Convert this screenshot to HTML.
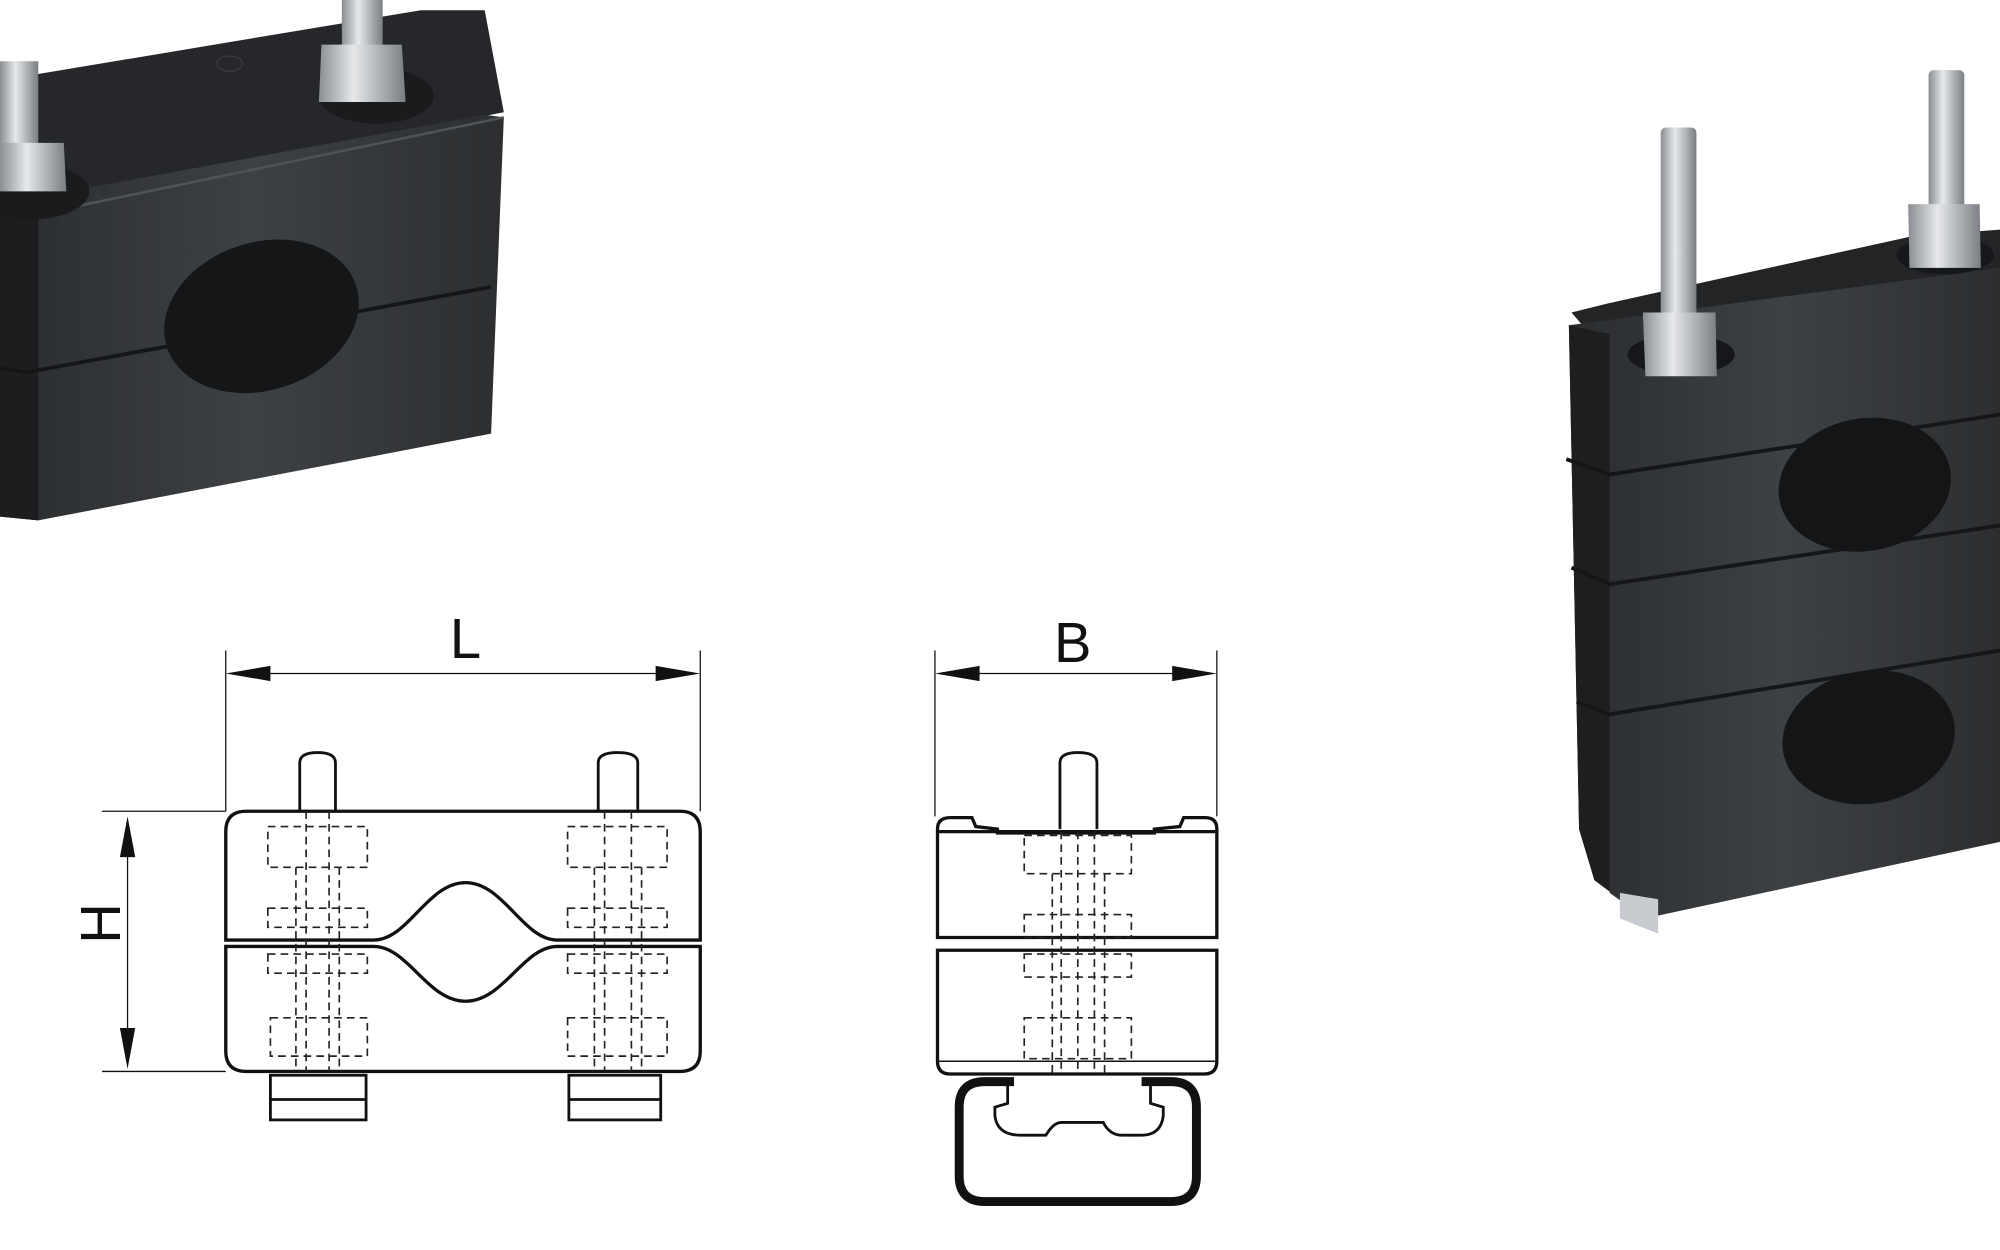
<!DOCTYPE html>
<html><head><meta charset="utf-8"><style>
html,body{margin:0;padding:0;background:#fff;width:2000px;height:1250px;overflow:hidden}
svg{display:block}
text{font-family:"Liberation Sans",sans-serif}
</style></head><body>
<svg width="2000" height="1250" viewBox="0 0 1568 980" preserveAspectRatio="none" xmlns="http://www.w3.org/2000/svg">
<defs>
<linearGradient id="bolt" x1="0" x2="1"><stop offset="0" stop-color="#8a8e92"/><stop offset=".4" stop-color="#e6e8ea"/><stop offset="1" stop-color="#7a7e82"/></linearGradient>
<linearGradient id="face" x1="0" x2="1" y1="0" y2="0"><stop offset="0" stop-color="#2a2c2e"/><stop offset=".5" stop-color="#3e4144"/><stop offset="1" stop-color="#2c2e30"/></linearGradient>
</defs>
<!-- LEFT PHOTO -->
<g>
<polygon points="0,90 30,58 330,8 380,8 395,88 0,165" fill="#25272a"/>
<polygon points="0,160 380,90 395,92 385,340 30,408 0,405" fill="url(#face)"/>
<polygon points="0,160 30,168 30,408 0,405" fill="#1c1d1f"/>
<polyline points="0,288 20,292 385,225" stroke="#141516" stroke-width="3" fill="none"/>
<polyline points="30,168 395,92" stroke="#505356" stroke-width="2" fill="none"/>
<ellipse cx="205" cy="248" rx="78" ry="58" transform="rotate(-18 205 248)" fill="#151617"/>
<ellipse cx="180" cy="50" rx="10" ry="6" fill="none" stroke="#3a3c3e"/>
<ellipse cx="295" cy="75" rx="45" ry="22" fill="#1a1b1c"/>
<ellipse cx="25" cy="150" rx="45" ry="22" fill="#1a1b1c"/>
<rect x="268" y="0" width="32" height="40" fill="url(#bolt)"/>
<polygon points="252,35 315,35 318,80 250,80" fill="url(#bolt)"/>
<rect x="0" y="48" width="30" height="70" fill="url(#bolt)"/>
<polygon points="0,112 50,112 52,150 0,150" fill="url(#bolt)"/>
</g>
<!-- RIGHT PHOTO -->
<g>
<polygon points="1232,245 1260,238 1500,185 1568,180 1568,215 1245,260" fill="#222426"/>
<polygon points="1230,255 1568,210 1568,660 1290,720 1250,690 1238,650" fill="url(#face)"/>
<polygon points="1230,255 1262,262 1262,700 1290,720 1250,690 1238,650" fill="#1d1e20"/>
<polyline points="1228,360 1262,372 1568,325" stroke="#151617" stroke-width="3" fill="none"/>
<polyline points="1232,445 1262,458 1568,412" stroke="#151617" stroke-width="3" fill="none"/>
<polyline points="1236,550 1262,560 1568,510" stroke="#151617" stroke-width="3" fill="none"/>
<ellipse cx="1462" cy="380" rx="68" ry="52" transform="rotate(-10 1462 380)" fill="#141516"/>
<ellipse cx="1465" cy="578" rx="68" ry="52" transform="rotate(-10 1465 578)" fill="#141516"/>
<polygon points="1270,700 1300,705 1300,732 1270,720" fill="#c8ccd0"/>
<ellipse cx="1318" cy="278" rx="42" ry="16" fill="#16171a"/>
<ellipse cx="1525" cy="200" rx="38" ry="15" fill="#16171a"/>
<rect x="1302" y="100" width="28" height="150" rx="4" fill="url(#bolt)"/>
<polygon points="1288,245 1345,245 1346,295 1290,295" fill="url(#bolt)"/>
<rect x="1512" y="55" width="28" height="110" rx="4" fill="url(#bolt)"/>
<polygon points="1496,160 1552,160 1553,210 1497,210" fill="url(#bolt)"/>
</g>
<!-- FRONT VIEW DRAWING -->
<g fill="none" stroke="#111" stroke-width="2.2">
<line x1="177" y1="510" x2="177" y2="636" stroke-width="1"/>
<line x1="549" y1="510" x2="549" y2="636" stroke-width="1"/>
<line x1="200" y1="528" x2="526" y2="528" stroke-width="1"/>
<line x1="80" y1="636" x2="177" y2="636" stroke-width="1"/>
<line x1="80" y1="840" x2="177" y2="840" stroke-width="1"/>
<line x1="100" y1="662" x2="100" y2="814" stroke-width="1"/>
<path d="M235,636 L235,598 Q235,590 249,590 Q263,590 263,598 L263,636"/>
<path d="M469,636 L469,598 Q469,590 484,590 Q500,590 500,598 L500,636"/>
<path d="M177,737 L177,652 Q177,636 193,636 L533,636 Q549,636 549,652 L549,737 L437,737 C410,737 395,692 365,692 C335,692 320,737 293,737 Z" stroke-width="2.6"/>
<path d="M177,742 L293,742 C320,742 335,785 365,785 C395,785 410,742 437,742 L549,742 L549,824 Q549,840 533,840 L193,840 Q177,840 177,824 Z" stroke-width="2.6"/>
<rect x="212" y="843" width="75" height="35"/><line x1="212" y1="862" x2="287" y2="862"/>
<rect x="446" y="843" width="72" height="35"/><line x1="446" y1="862" x2="518" y2="862"/>
</g>
<g fill="none" stroke="#222" stroke-width="1.3" stroke-dasharray="6,4">
<rect x="210" y="648" width="78" height="32"/><rect x="210" y="712" width="78" height="15"/>
<rect x="210" y="748" width="78" height="15"/><rect x="212" y="798" width="76" height="30"/>
<line x1="232" y1="680" x2="232" y2="840"/><line x1="240" y1="636" x2="240" y2="840"/>
<line x1="258" y1="636" x2="258" y2="840"/><line x1="266" y1="680" x2="266" y2="840"/>
<rect x="445" y="648" width="78" height="32"/><rect x="445" y="712" width="78" height="15"/>
<rect x="445" y="748" width="78" height="15"/><rect x="445" y="798" width="78" height="30"/>
<line x1="466" y1="680" x2="466" y2="840"/><line x1="474" y1="636" x2="474" y2="840"/>
<line x1="495" y1="636" x2="495" y2="840"/><line x1="503" y1="680" x2="503" y2="840"/>
</g>
<g fill="#111">
<polygon points="177,528 212,522 212,534"/><polygon points="549,528 514,522 514,534"/>
<polygon points="100,640 94,672 106,672"/><polygon points="100,838 94,806 106,806"/>
<polygon points="733,528 768,522 768,534"/><polygon points="954,528 919,522 919,534"/>
</g>
<text x="365" y="516" font-size="44" text-anchor="middle" fill="#111">L</text>
<text x="841" y="519" font-size="44" text-anchor="middle" fill="#111">B</text>
<text x="0" y="0" font-size="44" text-anchor="middle" fill="#111" transform="translate(94,724) rotate(-90)">H</text>
<!-- SIDE VIEW -->
<g fill="none" stroke="#111" stroke-width="2.2">
<line x1="733" y1="510" x2="733" y2="640" stroke-width="1"/>
<line x1="954" y1="510" x2="954" y2="640" stroke-width="1"/>
<line x1="755" y1="528" x2="932" y2="528" stroke-width="1"/>
<path d="M831,650 L831,598 Q831,590 845,590 Q860,590 860,598 L860,650"/>
<path d="M735,735 L735,650 Q735,641 745,641 L762,641 L765,648 L782,650 L782,653 L905,653 L905,650 L925,648 L928,641 L945,641 Q954,641 954,650 L954,735 Z" stroke-width="2.6"/>
<line x1="735" y1="652" x2="954" y2="652" stroke-width="2.6"/>
<path d="M735,745 L954,745 L954,832 Q954,842 944,842 L745,842 Q735,842 735,832 Z" stroke-width="2.6"/>
<line x1="735" y1="832" x2="954" y2="832" stroke-width="1.2"/>
<path d="M795,848 L772,848 Q752,848 752,868 L752,922 Q752,942 772,942 L918,942 Q938,942 938,922 L938,868 Q938,848 918,848 L895,848" stroke-width="7"/>
<path d="M790,845 L790,865 L780,868 L780,875 Q782,890 800,890 L820,890 Q826,880 832,880 L865,880 Q870,890 880,890 L895,890 Q910,890 912,875 L912,868 L902,865 L902,845"/>
</g>
<g fill="none" stroke="#222" stroke-width="1.3" stroke-dasharray="6,4">
<rect x="803" y="655" width="84" height="30"/><rect x="803" y="717" width="84" height="18"/>
<rect x="803" y="748" width="84" height="18"/><rect x="803" y="798" width="84" height="32"/>
<line x1="825" y1="685" x2="825" y2="842"/><line x1="832" y1="652" x2="832" y2="842"/>
<line x1="858" y1="652" x2="858" y2="842"/><line x1="866" y1="685" x2="866" y2="842"/>
<line x1="845" y1="652" x2="845" y2="842"/>
</g>
</svg>
</body></html>
